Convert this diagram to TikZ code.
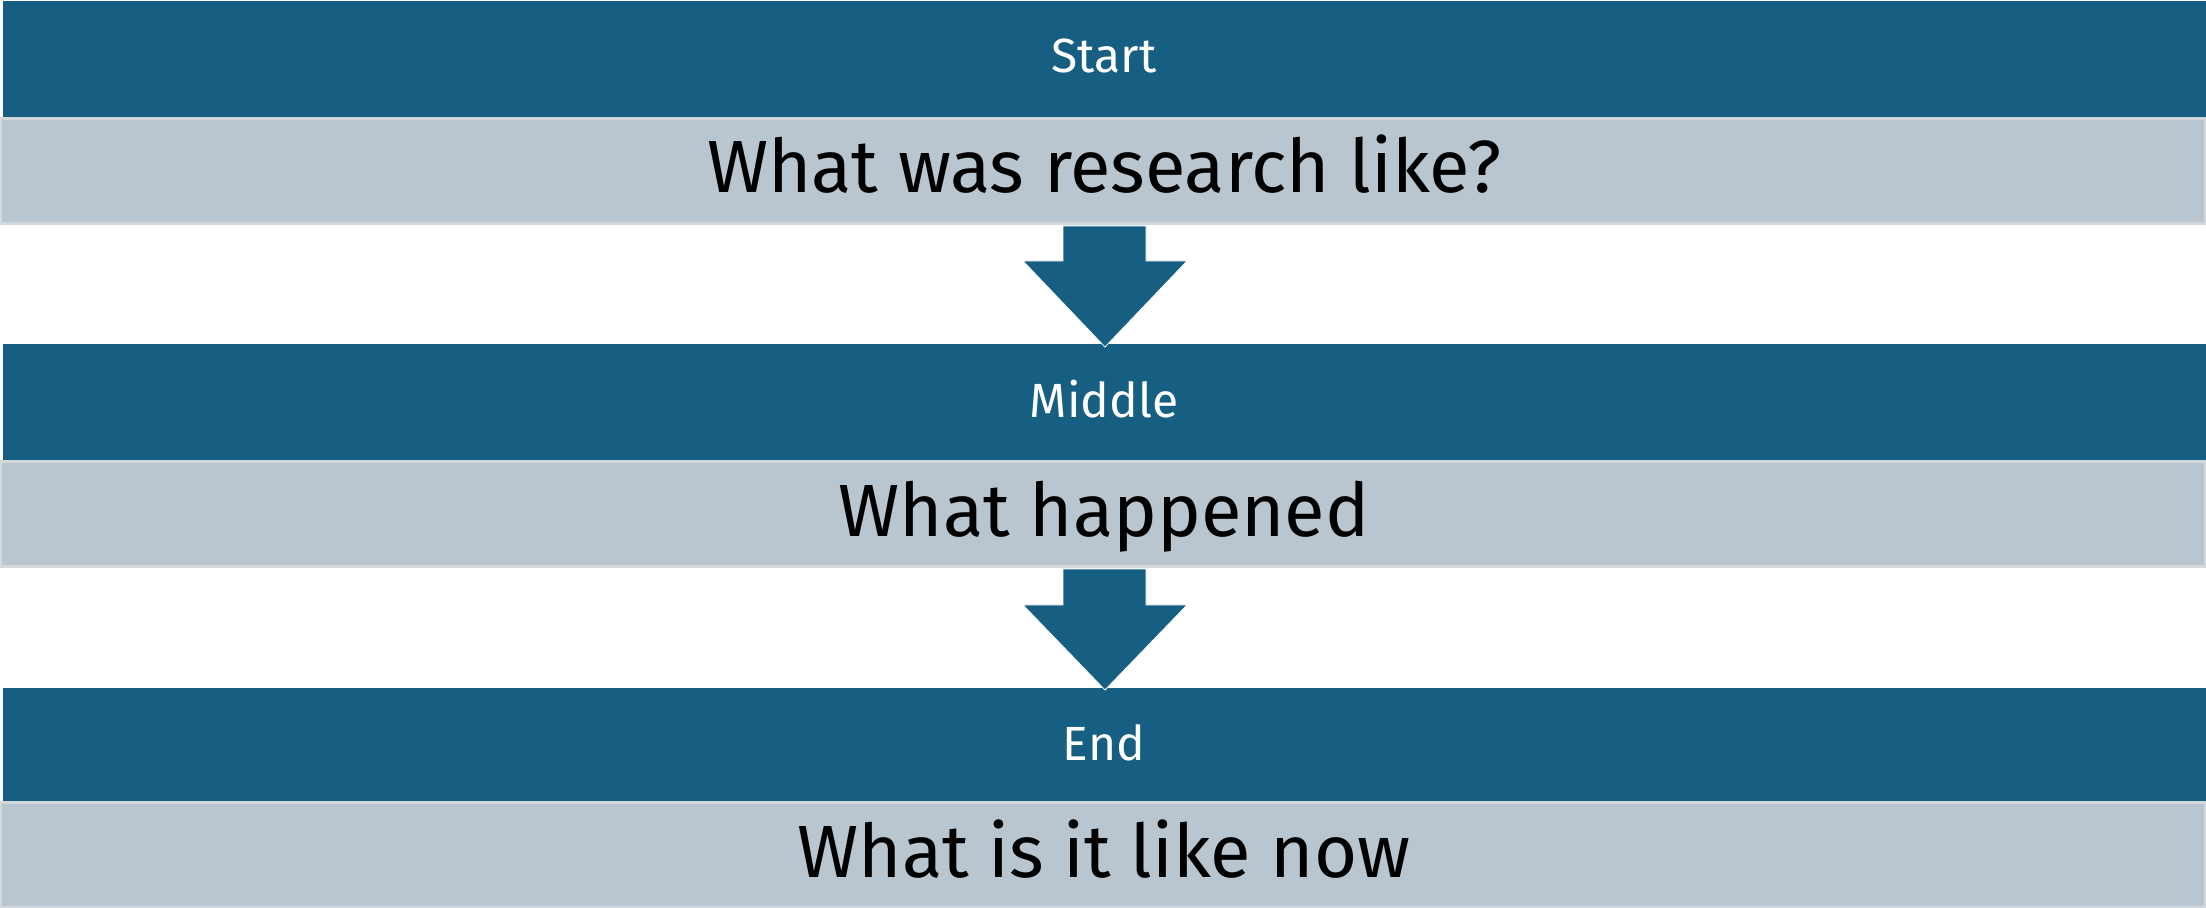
\documentclass[tikz,border=0pt]{standalone}
\usepackage{fontspec}
\setmainfont{Fira Sans}
\usetikzlibrary{calc}
\definecolor{bandblue}{RGB}{23,95,130}
\definecolor{bandgrey}{RGB}{185,198,207}
\definecolor{bandedge}{RGB}{211,216,221}
\tikzset{
  darkband/.style={fill=bandblue, draw=none, inner sep=0pt, outer sep=0pt, anchor=north west, minimum width=1101.5pt, minimum height=58.5pt},
  lightband/.style={fill=bandgrey, draw=bandedge, line width=1.5pt, inner sep=0pt, outer sep=0pt, anchor=north west, minimum width=1102.5pt, minimum height=52.5pt},
  hdrtext/.style={text=white, font=\fontsize{24}{28}\selectfont, anchor=base, inner sep=0pt},
  maintext/.style={text=black, font=\fontsize{37}{44}\selectfont, anchor=base, inner sep=0pt},
  blockarrow/.style={fill=bandblue, draw=white, line width=0.4pt}
}
\begin{document}
\begin{tikzpicture}[x=0.5pt,y=-0.5pt]
\useasboundingbox (0,0) rectangle (2206,908);
% bands
\node[darkband] (d1) at (3,1) {};
\node[lightband] (l1) at (0.75,118.75) {};
\node[darkband, minimum height=58.5pt] (d2) at (3,344) {};
\node[lightband] (l2) at (0.75,461.75) {};
\node[darkband, minimum height=57pt] (d3) at (3,688) {};
\node[lightband] (l3) at (0.75,802.75) {};
% texts
\node[hdrtext] (t1) at (1104,73) {Start};
\node[maintext] (m1) at (1104,193) {What was research like?};
\node[hdrtext] (t2) at (1104,418) {Middle};
\node[maintext] (m2) at (1104,537) {What happened};
\node[hdrtext] (t3) at (1104,760) {End};
\node[maintext] (m3) at (1104,877) {What is it like now};
% arrows
\coordinate (a1s) at (1105,226);
\coordinate (a1t) at (1105,347);
\draw[blockarrow] ($(a1s)+(-42,0)$) -- ($(a1s)+(41,0)$) -- ($(a1s)+(41,35)$) -- ($(a1s)+(82,35)$)
  -- (a1t) -- ($(a1s)+(-82,35)$) -- ($(a1s)+(-42,35)$) -- cycle;
\coordinate (a2s) at (1105,569);
\coordinate (a2t) at (1105,690);
\draw[blockarrow] ($(a2s)+(-42,0)$) -- ($(a2s)+(41,0)$) -- ($(a2s)+(41,36)$) -- ($(a2s)+(82,36)$)
  -- (a2t) -- ($(a2s)+(-82,36)$) -- ($(a2s)+(-42,36)$) -- cycle;
\end{tikzpicture}
\end{document}
